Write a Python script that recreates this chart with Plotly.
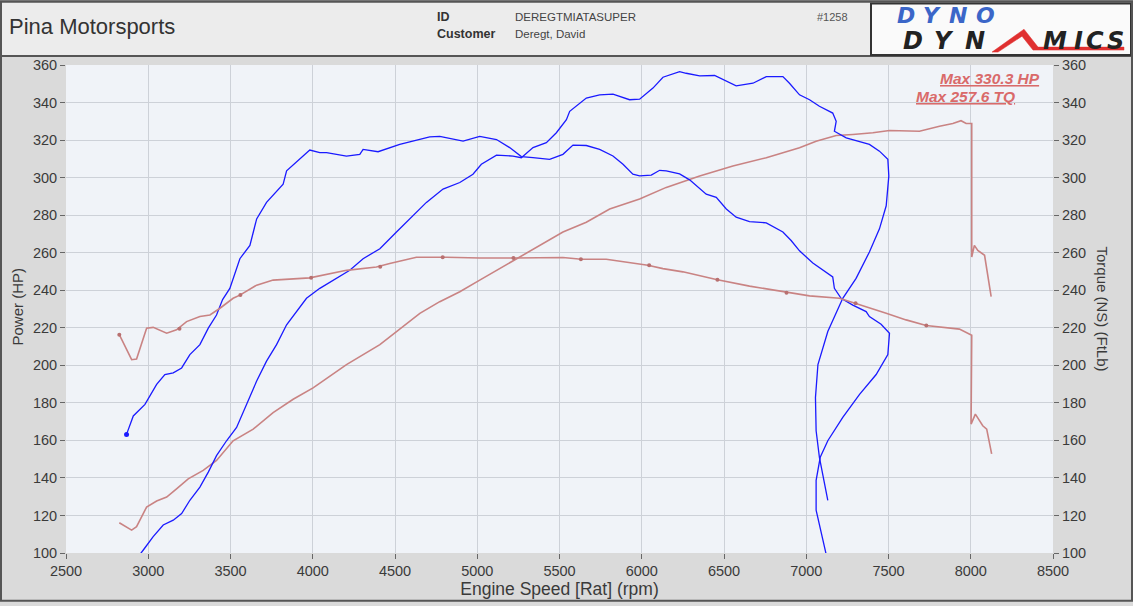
import plotly.graph_objects as go

# ---------------- data ----------------
# Blue run, curve A (upper-left, peaks ~322) - rpm / value
blueA_rpm = [2868, 2909, 2980, 3051, 3101, 3152, 3203, 3253, 3314, 3365, 3415, 3452,
             3496, 3557, 3618, 3659, 3719, 3820, 3841, 3922, 3982, 4043, 4084, 4205,
             4286, 4306, 4397, 4529, 4610, 4711, 4772, 4833, 4914, 5015, 5117, 5197,
             5268, 5339, 5440, 5521, 5582, 5663, 5744, 5825, 5886, 5946, 5987, 6058,
             6109, 6149, 6230, 6291, 6392, 6453, 6514, 6574, 6655, 6757, 6858, 6908,
             6959, 7040, 7121, 7161, 7171, 7212, 7283, 7364, 7384, 7455, 7506, 7496,
             7425, 7324, 7222, 7131, 7085, 7060, 7060, 7091, 7121, 7140]
blueA_val = [163.2, 173.0, 179.2, 189.8, 195.0, 196.0, 198.6, 205.7, 211.0, 219.8, 226.8, 235.0,
             241.0, 256.8, 263.9, 278.0, 286.8, 296.5, 303.6, 309.7, 314.7, 313.3, 313.3, 311.5,
             312.4, 315.0, 313.8, 317.7, 319.4, 321.7, 322.0, 321.0, 319.4, 322.0, 320.3, 316.0,
             311.2, 310.6, 309.7, 312.4, 317.3, 317.1, 315.0, 311.5, 307.1, 301.8, 300.9, 301.3,
             303.9, 303.6, 302.0, 298.8, 291.2, 289.5, 283.3, 278.9, 276.6, 275.9, 271.0, 266.5,
             261.0, 254.5, 249.4, 247.1, 241.0, 235.7, 232.1, 228.6, 226.0, 221.9, 217.1, 205.7,
             195.1, 184.5, 172.2, 159.8, 151.0, 138.7, 122.8, 110.4, 98.0, 92.0]

# Blue run, curve B (rises to ~357)
blueB_rpm = [2868, 2909, 2970, 3030, 3091, 3152, 3203, 3253, 3314, 3365, 3415, 3476,
             3537, 3598, 3659, 3719, 3780, 3841, 3902, 3962, 4043, 4124, 4225, 4306,
             4408, 4509, 4610, 4691, 4792, 4894, 4974, 5025, 5117, 5217, 5268, 5339,
             5420, 5481, 5542, 5562, 5663, 5744, 5825, 5926, 5987, 6068, 6129, 6230,
             6270, 6352, 6443, 6514, 6574, 6676, 6757, 6858, 6898, 6959, 7020, 7080,
             7161, 7182, 7171, 7243, 7324, 7384, 7445, 7496, 7502, 7486, 7445, 7384,
             7303, 7222, 7131, 7071, 7056, 7060, 7080, 7131]
blueB_val = [89.3, 94.6, 101.6, 108.7, 114.9, 117.5, 121.0, 128.1, 135.1, 143.1, 151.9, 159.8,
             166.9, 179.2, 191.6, 202.2, 211.0, 221.6, 228.6, 235.7, 241.0, 245.4, 250.6, 256.8,
             262.1, 271.0, 279.8, 286.8, 293.9, 297.4, 301.8, 307.1, 312.0, 311.5, 310.6, 316.0,
             318.6, 323.9, 330.9, 335.3, 342.4, 344.1, 344.5, 341.5, 341.8, 347.7, 353.5, 356.5,
             355.6, 354.2, 354.4, 351.2, 348.9, 350.3, 353.8, 353.8, 350.3, 344.1, 341.5, 338.0,
             334.4, 330.0, 324.7, 321.2, 319.4, 317.7, 314.1, 309.7, 300.9, 285.0, 272.7, 260.4,
             246.3, 235.7, 218.0, 200.4, 182.8, 165.1, 151.0, 128.1]

# Red run, power (HP)
power_rpm = [2824, 2899, 2929, 2990, 3051, 3112, 3172, 3243, 3334, 3415, 3516, 3638,
             3759, 3881, 4002, 4205, 4408, 4509, 4651, 4772, 4894, 5015, 5137, 5258,
             5400, 5521, 5663, 5805, 5987, 6149, 6352, 6554, 6757, 6959, 7060, 7182,
             7283, 7405, 7506, 7688, 7810, 7891, 7941, 7972, 8006, 8006, 8022, 8043,
             8084, 8124]
power_hp = [116.1, 112.2, 114.0, 124.5, 127.7, 129.8, 134.2, 139.5, 144.0, 149.3, 159.8, 166.0,
            174.8, 181.9, 188.0, 200.4, 211.0, 218.0, 227.7, 233.9, 239.2, 245.4, 251.5, 257.7,
            264.8, 271.0, 276.2, 283.3, 288.6, 294.8, 300.9, 306.2, 310.6, 315.9, 319.4, 322.4,
            323.0, 323.9, 325.1, 324.7, 327.4, 328.8, 330.3, 328.8, 328.8, 257.7, 263.9, 261.2,
            258.6, 236.6]

# Red run, torque (FtLb)
torque_rpm = [2824, 2899, 2929, 2990, 3030, 3112, 3172, 3233, 3314, 3375, 3436, 3516,
              3557, 3659, 3759, 3861, 3982, 4205, 4387, 4468, 4630, 4813, 5015, 5228,
              5420, 5521, 5633, 5784, 6037, 6129, 6250, 6453, 6655, 6878, 7020, 7202,
              7303, 7364, 7486, 7607, 7729, 7931, 8006, 8002, 8028, 8073, 8097, 8127]
torque_ft = [216.3, 203.0, 203.4, 219.8, 220.2, 217.1, 218.9, 223.3, 226.0, 226.8, 230.4, 235.7,
             237.4, 242.7, 245.4, 245.9, 246.6, 250.6, 252.4, 254.2, 257.6, 257.6, 257.2, 257.2,
             257.4, 257.4, 256.5, 256.5, 253.3, 251.5, 249.8, 245.7, 242.2, 238.8, 237.0, 235.7,
             233.0, 231.3, 227.7, 224.2, 221.2, 219.3, 216.0, 168.7, 174.0, 167.8, 166.0, 152.8]

# Sample dots shown on the red torque trace
torque_dot_rpm = [2824, 3190, 3560, 3990, 4410, 4790, 5220, 5630, 6045, 6460, 6880, 7300, 7730]
torque_dot_ft = [216.3, 219.5, 237.4, 246.6, 252.5, 257.6, 257.2, 256.5, 253.3, 245.6, 238.6, 233.0, 221.2]

x_ticks = [2500, 3000, 3500, 4000, 4500, 5000, 5500, 6000, 6500, 7000, 7500, 8000, 8500]
y_ticks = [100, 120, 140, 160, 180, 200, 220, 240, 260, 280, 300, 320, 340, 360]

shop_name = "Pina Motorsports"
run_id = "DEREGTMIATASUPER"
customer = "Deregt, David"
run_no = "#1258"
max_hp_text = "Max 330.3 HP"
max_tq_text = "Max 257.6 TQ"

# ---------------- figure ----------------
W, H = 1133, 606
L, R, T, B = 66, 80, 65, 50
PW, PH = W - L - R, H - T - B
FONT = "Liberation Sans, Arial, sans-serif"
LOGO_FONT = "DejaVu Sans, sans-serif"


def px(x):
    return (x - L) / PW


def py(y):
    return (H - B - y) / PH


BLUE = "#1a1aff"
RED = "#c98383"

fig = go.Figure()
fig.add_trace(go.Scatter(x=power_rpm, y=power_hp, mode="lines",
                         line=dict(color=RED, width=1.6), hoverinfo="skip"))
fig.add_trace(go.Scatter(x=torque_rpm, y=torque_ft, mode="lines", yaxis="y2",
                         line=dict(color=RED, width=1.6), hoverinfo="skip"))
fig.add_trace(go.Scatter(x=torque_dot_rpm, y=torque_dot_ft, mode="markers", yaxis="y2",
                         marker=dict(color="#b87070", size=4), hoverinfo="skip"))
fig.add_trace(go.Scatter(x=blueA_rpm, y=blueA_val, mode="lines",
                         line=dict(color=BLUE, width=1.3), hoverinfo="skip"))
fig.add_trace(go.Scatter(x=blueB_rpm, y=blueB_val, mode="lines",
                         line=dict(color=BLUE, width=1.3), hoverinfo="skip"))
fig.add_trace(go.Scatter(x=blueA_rpm[:1], y=blueA_val[:1], mode="markers",
                         marker=dict(color=BLUE, size=5), hoverinfo="skip"))

axis_font = dict(family=FONT, size=14.5, color="#3a3a3a")
fig.update_layout(
    width=W, height=H,
    margin=dict(l=L, r=R, t=T, b=B),
    paper_bgcolor="#dadada",
    plot_bgcolor="#f0f3f8",
    showlegend=False,
    xaxis=dict(range=[2500, 8500], tickvals=x_ticks, showgrid=True,
               gridcolor="#cdd1d8", gridwidth=1, zeroline=False,
               ticks="outside", ticklen=5, tickcolor="#666",
               tickfont=axis_font, showline=False,
               title=dict(text="Engine Speed [Rat] (rpm)",
                          font=dict(family=FONT, size=17.5, color="#3a3a3a"),
                          standoff=2)),
    yaxis=dict(range=[100, 360], tickvals=y_ticks, showgrid=True,
               gridcolor="#cdd1d8", gridwidth=1, zeroline=False,
               ticks="outside", ticklen=5, tickcolor="#666",
               tickfont=axis_font, showline=False),
    yaxis2=dict(range=[100, 360], tickvals=y_ticks, overlaying="y", side="right",
                showgrid=False, zeroline=False, ticks="outside", ticklen=5,
                tickcolor="#666", tickfont=axis_font, showline=False),
)

shapes = []
# header band
shapes.append(dict(type="rect", xref="paper", yref="paper",
                   x0=px(1), x1=px(W - 1), y0=py(56), y1=py(1),
                   fillcolor="#ececec", line=dict(color="#555", width=2), layer="below"))
# logo box
shapes.append(dict(type="rect", xref="paper", yref="paper",
                   x0=px(871), x1=px(1131), y0=py(55), y1=py(3),
                   fillcolor="#fafafa", line=dict(color="#333", width=2), layer="below"))
# outer frame
shapes.append(dict(type="rect", xref="paper", yref="paper",
                   x0=px(1), x1=px(W - 1), y0=py(H - 2), y1=py(1),
                   fillcolor="rgba(0,0,0,0)", line=dict(color="#555", width=2), layer="below"))
# red swoosh of the logo (stands in for the "A")
shapes.append(dict(type="path", xref="paper", yref="paper",
                   path=f"M {px(992)},{py(52)} L {px(1024)},{py(29)} L {px(1038)},{py(47)} "
                        f"L {px(1124)},{py(47)} L {px(1124)},{py(50)} L {px(1033)},{py(50)} "
                        f"L {px(1022)},{py(36)} L {px(998)},{py(52)} Z",
                   fillcolor="#e03030", line=dict(color="#e03030", width=0.5)))
fig.update_layout(shapes=shapes)

ann = []


def txt(x, y, s, size, color="#333", bold=False, italic=False, xanchor="left", angle=0, family=FONT):
    if bold:
        s = f"<b>{s}</b>"
    if italic:
        s = f"<i>{s}</i>"
    ann.append(dict(x=px(x), y=py(y), xref="paper", yref="paper", text=s, showarrow=False,
                    xanchor=xanchor, yanchor="middle", textangle=angle, borderpad=0,
                    font=dict(family=family, size=size, color=color)))


txt(8, 26, shop_name, 22, "#333")
txt(436, 17, "ID", 12.5, "#333", bold=True)
txt(436, 34, "Customer", 12.5, "#333", bold=True)
txt(514, 17, run_id, 11.5, "#444")
txt(514, 34, customer, 11.5, "#444")
txt(816, 17, run_no, 11, "#555")

# logo letters
for ch, x in zip("DYNO", [906, 932, 958, 985]):
    txt(x, 15, ch, 22, "#3b66c8", bold=True, italic=True, xanchor="center", family=LOGO_FONT)
for ch, x in zip("DYN", [913, 944, 975]):
    txt(x, 41, ch, 24, "#222", bold=True, italic=True, xanchor="center", family=LOGO_FONT)
for ch, x in zip("MICS", [1055, 1078, 1095, 1115]):
    txt(x, 41, ch, 24, "#222", bold=True, italic=True, xanchor="center", family=LOGO_FONT)

txt(1041, 79, f"<u>{max_hp_text}</u>", 15.5, "#d96a6a", bold=True, italic=True, xanchor="right")
txt(1016, 97, f"<u>{max_tq_text}</u>", 15.5, "#d96a6a", bold=True, italic=True, xanchor="right")
txt(18, 308, "Power (HP)", 15, "#3a3a3a", xanchor="center", angle=-90)
txt(1102, 310, "Torque (NS) (FtLb)", 15, "#3a3a3a", xanchor="center", angle=90)
fig.update_layout(annotations=ann)

fig.write_html("out.html", config={"displayModeBar": False},
               post_script="document.body.style.margin='0';document.body.style.overflow='hidden';")
